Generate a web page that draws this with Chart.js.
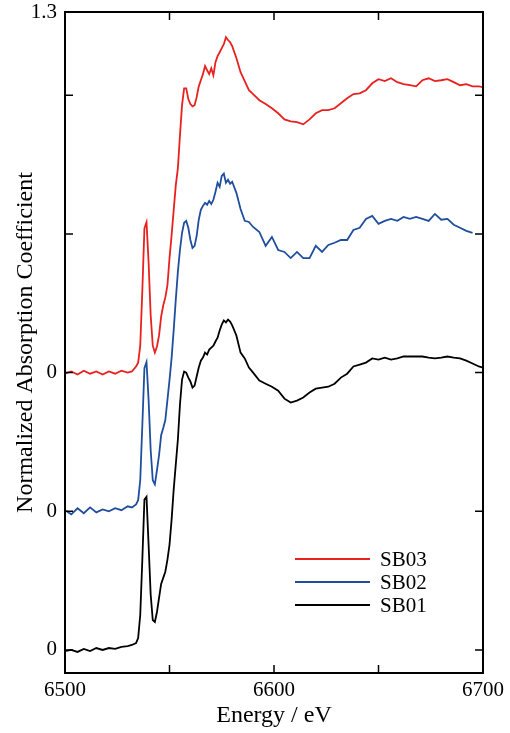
<!DOCTYPE html>
<html>
<head>
<meta charset="utf-8">
<script src="https://cdn.jsdelivr.net/npm/chart.js@4.4.1/dist/chart.umd.min.js"></script>
<style>
  html, body { margin: 0; padding: 0; background: #fff; }
  #wrap { width: 510px; height: 733px; }
</style>
</head>
<body>
<div id="wrap"><canvas id="xanes"></canvas></div>
<script>
// Energy grid (eV)
const energies = [6500, 6503, 6506, 6509, 6512, 6515, 6518, 6521, 6524, 6527, 6530, 6532, 6534, 6535,
  6536, 6537, 6538, 6539, 6540, 6541, 6542, 6543, 6544, 6545, 6546, 6547, 6548, 6549, 6550, 6551,
  6552, 6553, 6554, 6555, 6556, 6557, 6558, 6559, 6560, 6561, 6562, 6563, 6564, 6565, 6566, 6567,
  6568, 6569, 6570, 6571, 6572, 6573, 6574, 6575, 6576, 6577, 6578, 6579, 6580, 6582, 6584, 6586,
  6588, 6590, 6593, 6596, 6599, 6602, 6605, 6608, 6611, 6614, 6617, 6620, 6623, 6626, 6629, 6632,
  6635, 6638, 6641, 6644, 6647, 6650, 6653, 6656, 6659, 6662, 6665, 6668, 6671, 6674, 6677, 6680,
  6683, 6686, 6689, 6692, 6695, 6698, 6700];

// Normalized absorption (each series starts at its own zero)
const sb01 = [-0.004, 0, -0.007, 0.004, -0.004, 0.007, 0, 0.007, 0.004, 0.011, 0.014, 0.018, 0.025, 0.043,
  0.126, 0.325, 0.542, 0.552, 0.379, 0.199, 0.108, 0.101, 0.137, 0.188, 0.238, 0.26, 0.282, 0.325, 0.379, 0.469,
  0.578, 0.668, 0.758, 0.884, 0.975, 1.004, 1.0, 0.982, 0.968, 0.946, 0.953, 0.986, 1.018, 1.043, 1.054, 1.072,
  1.065, 1.083, 1.090, 1.097, 1.112, 1.126, 1.152, 1.173, 1.188, 1.181, 1.191, 1.184, 1.170, 1.134, 1.072, 1.051,
  1.018, 1.0, 0.971, 0.960, 0.949, 0.935, 0.906, 0.892, 0.899, 0.910, 0.928, 0.942, 0.946, 0.949, 0.960, 0.982,
  0.996, 1.022, 1.029, 1.036, 1.051, 1.047, 1.054, 1.047, 1.051, 1.058, 1.058, 1.058, 1.058, 1.054, 1.051, 1.054,
  1.058, 1.054, 1.051, 1.043, 1.033, 1.022, 1.018];

const sb02 = [0.004, -0.011, 0.011, -0.007, 0.014, -0.004, 0.007, 0, 0.011, 0.004, 0.018, 0.014, 0.025, 0.040,
  0.112, 0.310, 0.516, 0.538, 0.401, 0.220, 0.112, 0.097, 0.148, 0.202, 0.274, 0.300, 0.329, 0.401, 0.473, 0.552,
  0.653, 0.762, 0.863, 0.942, 1.004, 1.040, 1.047, 1.022, 0.978, 0.949, 0.957, 0.993, 1.051, 1.087, 1.101, 1.112,
  1.105, 1.119, 1.108, 1.123, 1.152, 1.184, 1.170, 1.209, 1.217, 1.184, 1.195, 1.181, 1.188, 1.148, 1.090, 1.047,
  1.043, 1.025, 1.007, 0.957, 0.989, 0.942, 0.935, 0.913, 0.935, 0.913, 0.913, 0.957, 0.935, 0.960, 0.968, 0.978,
  0.978, 1.014, 1.022, 1.054, 1.065, 1.036, 1.047, 1.054, 1.047, 1.061, 1.054, 1.061, 1.054, 1.047, 1.072, 1.051,
  1.054, 1.033, 1.022, 1.011, 1.004, null, null];

const sb03 = [-0.004, 0.004, -0.007, 0.007, -0.004, 0.004, -0.007, 0.004, -0.004, 0.007, 0, 0.004, 0.022, 0.036,
  0.097, 0.296, 0.520, 0.542, 0.397, 0.206, 0.097, 0.072, 0.094, 0.134, 0.202, 0.242, 0.271, 0.314, 0.412, 0.495,
  0.585, 0.675, 0.736, 0.855, 0.964, 1.025, 1.025, 0.986, 0.968, 0.960, 0.964, 0.993, 1.032, 1.054, 1.076, 1.105,
  1.090, 1.076, 1.097, 1.072, 1.119, 1.141, 1.155, 1.170, 1.184, 1.209, 1.199, 1.191, 1.177, 1.134, 1.083, 1.051,
  1.018, 1.004, 0.982, 0.968, 0.953, 0.935, 0.913, 0.906, 0.903, 0.895, 0.913, 0.935, 0.946, 0.946, 0.953, 0.971,
  0.989, 1.004, 1.007, 1.018, 1.043, 1.058, 1.051, 1.061, 1.047, 1.040, 1.036, 1.032, 1.054, 1.061, 1.051, 1.054,
  1.058, 1.047, 1.036, 1.040, 1.032, 1.032, 1.029];

const seriesNames = ['SB03', 'SB02', 'SB01'];
const seriesValues = [sb03, sb02, sb01];
const seriesOffsets = [1.0, 0.5, 0];
const seriesColors = ['#e8211f', '#1f4e9f', '#000000'];

// y ticks: a zero for each stacked spectrum, top of SB03 range is 1.3
const yTickValues = [0, 0.5, 1, 1.5, 2, 2.3];
const yTickLabels = ['0', '0', '0', '', '', '1.3'];
const xLabelled = [6500, 6600, 6700];

const serif = "'Liberation Serif', 'Times New Roman', serif";
Chart.defaults.font.family = serif;
Chart.defaults.color = '#000';

function toPoints(vals, offset) {
  const pts = [];
  energies.forEach((e, i) => {
    if (vals[i] !== null) pts.push({ x: e, y: vals[i] + offset });
  });
  return pts;
}

// inward ticks on all four sides plus the frame
const frameTicks = {
  id: 'frameTicks',
  afterDatasetsDraw(chart) {
    const { ctx, chartArea: a, scales } = chart;
    const len = 8;
    ctx.save();
    ctx.strokeStyle = '#000';
    ctx.lineWidth = 1.5;
    ctx.beginPath();
    scales.x.ticks.forEach(t => {
      const px = scales.x.getPixelForValue(t.value);
      ctx.moveTo(px, a.bottom); ctx.lineTo(px, a.bottom - len);
      ctx.moveTo(px, a.top); ctx.lineTo(px, a.top + len);
    });
    scales.y.ticks.forEach(t => {
      const py = scales.y.getPixelForValue(t.value);
      ctx.moveTo(a.left, py); ctx.lineTo(a.left + len, py);
      ctx.moveTo(a.right, py); ctx.lineTo(a.right - len, py);
    });
    ctx.stroke();
    ctx.lineWidth = 2;
    ctx.strokeRect(a.left, a.top, a.right - a.left, a.bottom - a.top);
    ctx.restore();
  }
};

// legend inside the plot, lower right
const innerLegend = {
  id: 'innerLegend',
  afterDatasetsDraw(chart) {
    const { ctx, chartArea: a } = chart;
    ctx.save();
    ctx.font = '21px ' + serif;
    ctx.textBaseline = 'middle';
    chart.data.datasets.forEach((ds, i) => {
      const y = a.bottom - 114 + i * 23;
      ctx.strokeStyle = ds.borderColor;
      ctx.lineWidth = 2;
      ctx.beginPath();
      ctx.moveTo(a.right - 188, y);
      ctx.lineTo(a.right - 113, y);
      ctx.stroke();
      ctx.fillStyle = '#000';
      ctx.fillText(ds.label, a.right - 103, y + 1);
    });
    ctx.restore();
  }
};

const ctx = document.getElementById('xanes').getContext('2d');
const xanesChart = new Chart(ctx, {
  type: 'line',
  data: {
    datasets: seriesNames.map((name, i) => ({
      label: name,
      data: toPoints(seriesValues[i], seriesOffsets[i]),
      borderColor: seriesColors[i],
      borderWidth: 1.8,
      pointRadius: 0,
      tension: 0,
      fill: false
    }))
  },
  options: {
    responsive: true,
    maintainAspectRatio: false,
    animation: false,
    layout: { padding: { top: 12, right: 27, bottom: 0, left: 0 } },
    plugins: {
      legend: { display: false },
      tooltip: { enabled: false }
    },
    scales: {
      x: {
        type: 'linear',
        min: 6500,
        max: 6700,
        grid: { display: false, drawTicks: false },
        border: { display: false },
        ticks: {
          stepSize: 50,
          padding: 5,
          maxRotation: 0,
          font: { size: 21 },
          callback: v => xLabelled.includes(v) ? String(v) : ''
        },
        title: {
          display: true,
          text: 'Energy / eV',
          font: { size: 24 },
          padding: { top: 0, bottom: 3 }
        },
        afterFit: s => { s.height = 60; s.paddingLeft = 0; s.paddingRight = 0; }
      },
      y: {
        type: 'linear',
        min: -0.083,
        max: 2.3,
        grid: { display: false, drawTicks: false },
        border: { display: false },
        afterBuildTicks: s => { s.ticks = yTickValues.map(v => ({ value: v })); },
        ticks: {
          padding: 8,
          font: { size: 21 },
          callback: (v, i) => yTickLabels[i]
        },
        title: {
          display: true,
          text: 'Normalized Absorption Coefficient',
          font: { size: 24 },
          padding: { top: 11, bottom: 0 }
        },
        afterFit: s => { s.width = 65; s.paddingTop = 0; s.paddingBottom = 0; }
      }
    }
  },
  plugins: [frameTicks, innerLegend]
});
</script>
</body>
</html>
